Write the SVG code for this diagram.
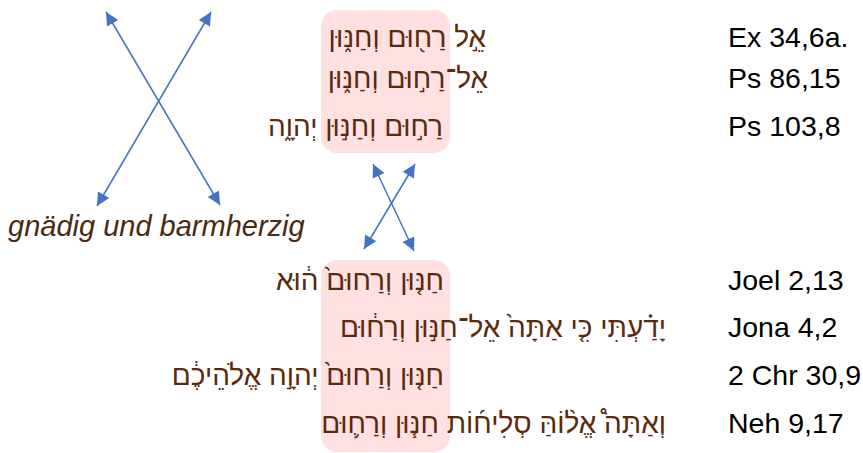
<svg xmlns="http://www.w3.org/2000/svg" width="863" height="453" viewBox="0 0 863 453">
<style>
.box{fill:#FFE1E1;}
.heb{font-family:"Liberation Sans","DejaVu Sans",sans-serif;font-size:28px;fill:#5A2A0E;}
.ref{font-family:"Liberation Sans",Arial,sans-serif;font-size:28.5px;fill:#000;}
.lab{font-family:"Liberation Sans",Arial,sans-serif;font-size:29px;font-style:italic;fill:#4A2A10;}
.arr{stroke:#4472C4;stroke-width:1.5;fill:none;marker-start:url(#ah);marker-end:url(#ah);}
</style>
<defs>
<marker id="ah" viewBox="0 0 10 10" refX="10" refY="5" markerUnits="userSpaceOnUse" markerWidth="15" markerHeight="13" orient="auto-start-reverse">
<path d="M0,0 L10,5 L0,10 z" fill="#4472C4"/>
</marker>
</defs>
<g id="box-top"><rect class="box" x="321" y="10" width="129" height="143" rx="16"/></g>
<g id="box-bottom"><rect class="box" x="321" y="260" width="129" height="192" rx="16"/></g>
<g id="connectors">
<line class="arr" x1="106" y1="12" x2="220" y2="205"/>
<line class="arr" x1="211" y1="12" x2="97" y2="206"/>
<line class="arr" x1="373" y1="164" x2="414" y2="251"/>
<line class="arr" x1="415" y1="164" x2="364" y2="249"/>
</g>
<g id="ex34"><text class="heb" x="486" y="47" text-anchor="end">אֵ֣ל רַח֖וּם וְחַנּ֑וּן</text><text class="ref" x="728" y="47">Ex 34,6a.</text></g>
<g id="ps86"><text class="heb" x="488" y="88" text-anchor="end">אֵל־רַח֣וּם וְחַנּ֑וּן</text><text class="ref" x="728" y="88">Ps 86,15</text></g>
<g id="ps103"><text class="heb" x="443" y="136" text-anchor="end">רַח֣וּם וְחַנּ֣וּן יְהוָ֑ה</text><text class="ref" x="728" y="136">Ps 103,8</text></g>
<g id="label"><text class="lab" x="8" y="236">gnädig und barmherzig</text></g>
<g id="joel"><text class="heb" x="444" y="290" text-anchor="end">חַנּ֤וּן וְרַחוּם֙ ה֔וּא</text><text class="ref" x="728" y="290">Joel 2,13</text></g>
<g id="jona"><text class="heb" x="666" y="337" text-anchor="end">יָדַ֗עְתִּי כִּ֤י אַתָּה֙ אֵל־חַנּ֣וּן וְרַח֔וּם</text><text class="ref" x="728" y="337">Jona 4,2</text></g>
<g id="chr"><text class="heb" x="444" y="385" text-anchor="end">חַנּ֤וּן וְרַחוּם֙ יְהוָ֣ה אֱלֹהֵיכֶ֔ם</text><text class="ref" x="728" y="385">2 Chr 30,9</text></g>
<g id="neh"><text class="heb" x="666" y="433" text-anchor="end">וְאַתָּה֩ אֱל֨וֹהַּ סְלִיח֜וֹת חַנּ֧וּן וְרַח֛וּם</text><text class="ref" x="728" y="433">Neh 9,17</text></g>
</svg>
